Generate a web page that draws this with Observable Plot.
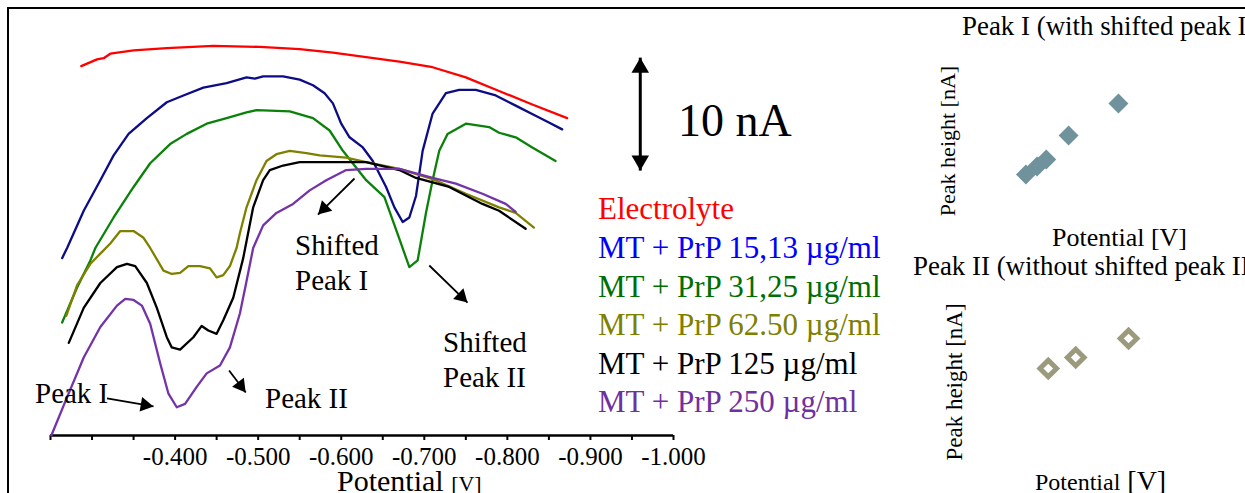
<!DOCTYPE html>
<html><head><meta charset="utf-8">
<script src="https://cdn.jsdelivr.net/npm/d3@7"></script>
<script src="https://cdn.jsdelivr.net/npm/@observablehq/plot@0.6"></script>
<style>
body{margin:0;background:#fff;}
#fig{position:relative;width:1245px;height:493px;overflow:hidden;font-family:"Liberation Serif","Times New Roman",serif;background:#fff;}
#frame{position:absolute;left:7px;top:7px;width:1300px;height:600px;border-left:2px solid #000;border-top:2px solid #000;}
.lbl{position:absolute;white-space:nowrap;line-height:1;}
#fig svg{position:absolute;}
g[aria-label="x-axis tick"] path, g[aria-label="x-axis"] line, g[aria-label="x-axis tick"] line{stroke-width:2px;}
</style></head><body><div id="fig"><div id="frame"></div></div>
<script>
// ---------- DATA (potential in V, current in nA) ----------
const potElectrolyte = [-0.287,-0.306,-0.314,-0.322,-0.350,-0.390,-0.446,-0.502,-0.550,-0.590,-0.630,-0.670,-0.710,-0.750,-0.790,-0.830,-0.872];
const curElectrolyte = [32.7,33.3,33.4,33.8,34.1,34.3,34.5,34.4,34.2,33.9,33.5,33.1,32.6,31.7,30.5,29.3,28.1];

const pot15 = [-0.264,-0.270,-0.290,-0.310,-0.326,-0.344,-0.366,-0.390,-0.410,-0.434,-0.462,-0.486,-0.496,-0.506,-0.530,-0.550,-0.566,-0.580,-0.590,-0.600,-0.610,-0.626,-0.638,-0.654,-0.664,-0.674,-0.682,-0.690,-0.698,-0.710,-0.726,-0.742,-0.762,-0.786,-0.810,-0.834,-0.850,-0.866];
const cur15 = [15.7,16.6,19.9,22.6,24.8,26.7,28.1,29.5,30.1,30.8,31.2,31.7,31.6,31.8,31.8,31.5,31.0,30.3,29.4,27.6,26.4,25.5,24.3,22.0,20.2,18.9,19.3,21.2,25.2,28.5,30.3,30.6,30.6,30.1,29.2,28.3,27.7,27.1];

const pot31 = [-0.264,-0.282,-0.298,-0.304,-0.326,-0.350,-0.370,-0.394,-0.414,-0.438,-0.462,-0.486,-0.498,-0.538,-0.566,-0.586,-0.602,-0.630,-0.652,-0.670,-0.682,-0.692,-0.702,-0.710,-0.718,-0.728,-0.750,-0.778,-0.790,-0.810,-0.830,-0.858];
const cur31 = [10.0,13.1,15.5,16.6,19.3,22.0,24.1,25.8,26.7,27.6,28.1,28.6,28.8,28.7,28.1,27.0,25.2,22.6,21.1,17.4,14.9,15.5,19.7,22.6,25.2,26.7,27.6,27.3,26.8,26.4,25.5,24.3];

const pot62 = [-0.269,-0.282,-0.298,-0.310,-0.322,-0.334,-0.350,-0.362,-0.370,-0.386,-0.396,-0.406,-0.416,-0.430,-0.442,-0.450,-0.458,-0.466,-0.474,-0.478,-0.486,-0.498,-0.510,-0.522,-0.538,-0.558,-0.574,-0.606,-0.630,-0.670,-0.710,-0.750,-0.790,-0.810,-0.832];
const cur62 = [10.6,13.3,15.2,16.1,17.0,18.1,18.1,17.5,16.6,14.6,14.3,14.4,15.0,15.0,14.8,14.0,14.2,15.0,16.6,17.9,20.2,22.6,24.3,24.9,25.2,25.0,24.8,24.6,24.2,23.6,22.7,21.4,20.2,19.7,18.4];

const pot125 = [-0.272,-0.290,-0.310,-0.330,-0.342,-0.352,-0.366,-0.378,-0.390,-0.396,-0.406,-0.422,-0.432,-0.440,-0.450,-0.458,-0.470,-0.482,-0.494,-0.506,-0.514,-0.530,-0.550,-0.590,-0.630,-0.670,-0.690,-0.730,-0.770,-0.790,-0.822];
const cur125 = [8.2,11.3,13.5,14.9,15.2,15.0,13.5,11.3,8.7,7.8,7.6,8.7,9.7,9.3,9.0,10.2,12.2,15.7,20.2,22.6,23.5,23.9,24.2,24.2,24.2,23.5,22.8,22.0,20.5,19.9,18.3];

const pot250 = [-0.251,-0.270,-0.290,-0.310,-0.330,-0.340,-0.350,-0.360,-0.370,-0.382,-0.392,-0.402,-0.412,-0.426,-0.438,-0.454,-0.466,-0.478,-0.485,-0.494,-0.506,-0.522,-0.542,-0.562,-0.582,-0.606,-0.630,-0.650,-0.670,-0.710,-0.738,-0.770,-0.798,-0.810];
const cur250 = [0.0,3.4,6.9,9.6,11.5,12.1,12.0,11.5,9.9,6.4,3.7,2.5,2.8,4.3,5.5,6.2,7.8,10.8,13.3,16.6,18.6,19.7,20.5,21.7,22.6,23.5,23.6,23.6,23.6,22.8,22.3,21.4,20.5,19.8];

const seriesNames = ["Electrolyte","MT + PrP 15,13 µg/ml","MT + PrP 31,25 µg/ml","MT + PrP 62.50 µg/ml","MT + PrP 125 µg/ml","MT + PrP 250 µg/ml"];
const lineColors = ["#ff0000","#0c0c86","#0a820a","#808000","#000000","#7433a6"];
const textColors = ["#ff0000","#0000ff","#006e00","#808000","#000000","#7030a0"];

const xTickValues = [-0.25,-0.30,-0.35,-0.40,-0.45,-0.50,-0.55,-0.60,-0.65,-0.70,-0.75,-0.80,-0.85,-0.90,-0.95,-1.00];
const xTickLabels = ["","","","-0.400","","-0.500","","-0.600","","-0.700","","-0.800","","-0.900","","-1.000"];

// scale bar (10 nA)
const scaleBarPot = -0.960;
const scaleBarCur = [23.45, 33.45];

// annotation arrows: from (x1,y1) to tip (x2,y2), data units
const annotArrows = [
  {x1:-0.318, y1:3.28, x2:-0.374, y2:2.57},
  {x1:-0.465, y1:5.75, x2:-0.485, y2:3.81},
  {x1:-0.616, y1:22.75, x2:-0.572, y2:19.56},
  {x1:-0.706, y1:15.05, x2:-0.752, y2:11.77}
];

// insets: peak potential (V) vs peak height (nA)
const inset1Pot = [-0.384,-0.395,-0.404,-0.426,-0.475];
const inset1Height = [7.24,8.0,8.67,10.95,14.0];
const inset2Pot = [-0.406,-0.433,-0.485];
const inset2Height = [12.2,13.3,15.2];

// ---------- BUILD ----------
const fig = document.getElementById("fig");
const W = 1245, H = 493, mL = 50, mR = 572, mT = 8, mB = 58;
const xDomain = [-0.25, -1.0], yDomain = [0, 37.8];
const xS = d3.scaleLinear(xDomain, [mL, W - mR]);
const yS = d3.scaleLinear(yDomain, [H - mB, mT]);

function heads(arrows, r) {
  const off = 2 * Math.sqrt(Math.PI * r * r / (3 * Math.sqrt(3)));
  return arrows.map(a => {
    const x1 = xS(a.x1), y1 = yS(a.y1), x2 = xS(a.x2), y2 = yS(a.y2);
    const L = Math.hypot(x2 - x1, y2 - y1), ux = (x2 - x1) / L, uy = (y2 - y1) / L;
    return {x: xS.invert(x2 - ux * off), y: yS.invert(y2 - uy * off), rotate: Math.atan2(ux, -uy) * 180 / Math.PI};
  });
}

const allPots = [potElectrolyte, pot15, pot31, pot62, pot125, pot250];
const allCurs = [curElectrolyte, cur15, cur31, cur62, cur125, cur250];
const lineMarks = allPots.map((pots, k) =>
  Plot.line(pots.map((p, i) => ({V: p, I: allCurs[k][i]})), {x: "V", y: "I", stroke: lineColors[k], strokeWidth: 2.3})
);

const scaleArrows = [
  {x1: scaleBarPot, y1: scaleBarCur[0], x2: scaleBarPot, y2: scaleBarCur[1]},
  {x1: scaleBarPot, y1: scaleBarCur[1], x2: scaleBarPot, y2: scaleBarCur[0]}
];
const labelMap = new Map(xTickValues.map((v, i) => [v, xTickLabels[i]]));

const main = Plot.plot({
  width: W, height: H, marginLeft: mL, marginRight: mR, marginTop: mT, marginBottom: mB,
  style: {fontFamily: "Liberation Serif, Times New Roman, serif", fontSize: "25px", background: "transparent", color: "#000"},
  x: {domain: xDomain, ticks: xTickValues, tickFormat: d => labelMap.get(d) ?? "", tickSize: 5, tickPadding: 7, label: null},
  y: {domain: yDomain, axis: null},
  marks: [
    Plot.ruleY([0], {stroke: "#000", strokeWidth: 2.5}),
    ...lineMarks,
    Plot.link([scaleArrows[0]], {x1: "x1", y1: "y1", x2: "x2", y2: "y2", stroke: "#000", strokeWidth: 3}),
    Plot.dot(heads(scaleArrows, 6.5), {x: "x", y: "y", rotate: "rotate", symbol: "triangle", r: 6.5, fill: "#000", stroke: "none"}),
    Plot.link(annotArrows, {x1: "x1", y1: "y1", x2: "x2", y2: "y2", stroke: "#000", strokeWidth: 1.8}),
    Plot.dot(heads(annotArrows, 5.5), {x: "x", y: "y", rotate: "rotate", symbol: "triangle", r: 5.5, fill: "#000", stroke: "none"})
  ]
});
main.style.left = "0px"; main.style.top = "0px";
fig.appendChild(main);

const inset1 = Plot.plot({
  width: 305, height: 210, margin: 0,
  style: {background: "transparent"},
  x: {domain: [-0.30, -0.60], axis: null},
  y: {domain: [0, 20], axis: null},
  marks: [Plot.dot(inset1Pot.map((p, i) => ({V: p, h: inset1Height[i]})), {x: "V", y: "h", symbol: "diamond2", r: 9, fill: "#6f929d", stroke: "none"})]
});
inset1.style.left = "940px"; inset1.style.top = "40px";
fig.appendChild(inset1);

const inset2 = Plot.plot({
  width: 305, height: 200, margin: 0,
  style: {background: "transparent"},
  x: {domain: [-0.30, -0.60], axis: null},
  y: {domain: [0, 20], axis: null},
  marks: [Plot.dot(inset2Pot.map((p, i) => ({V: p, h: inset2Height[i]})), {x: "V", y: "h", symbol: "diamond2", r: 7.5, fill: "none", stroke: "#9b9a7d", strokeWidth: 5})]
});
inset2.style.left = "940px"; inset2.style.top = "290px";
fig.appendChild(inset2);

// ---------- TEXT ----------
function label(html, x, baseline, size, color) {
  const d = document.createElement("div");
  d.className = "lbl"; d.innerHTML = html;
  d.style.fontSize = size + "px"; d.style.color = color || "#000";
  d.style.left = x + "px"; d.style.top = (baseline - 0.8375 * size) + "px";
  fig.appendChild(d); return d;
}
function vlabel(text, cx, cy, size) {
  const d = document.createElement("div");
  d.className = "lbl"; d.textContent = text; d.style.fontSize = size + "px";
  d.style.left = cx + "px"; d.style.top = cy + "px";
  d.style.transform = "translate(-50%,-50%) rotate(-90deg)";
  fig.appendChild(d); return d;
}

const legendBaselines = [219, 258, 297, 335, 374, 412];
seriesNames.forEach((n, i) => label(n, 598, legendBaselines[i], 31, textColors[i]));

label("10 nA", 678, 137, 46);
label("Peak I", 35, 403, 29);
label("Peak II", 265, 408, 29);
label("Shifted", 295, 255, 29);
label("Peak I", 295, 290, 29);
label("Shifted", 443, 352, 29);
label("Peak II", 443, 387, 29);
label('Potential <span style="font-size:22px">[V]</span>', 337, 491, 30);

label("Peak I (with shifted peak I)", 962, 36, 26.9);
vlabel("Peak height [nA]", 948, 141, 22);
label("Potential [V]", 1052, 247, 26);

label("Peak II (without shifted peak II)", 913, 276, 26.9);
vlabel("Peak height [nA]", 954, 382, 23);
label('<span style="font-size:24px">Potential</span> [V]', 1035, 490, 28);
</script>
</body></html>
